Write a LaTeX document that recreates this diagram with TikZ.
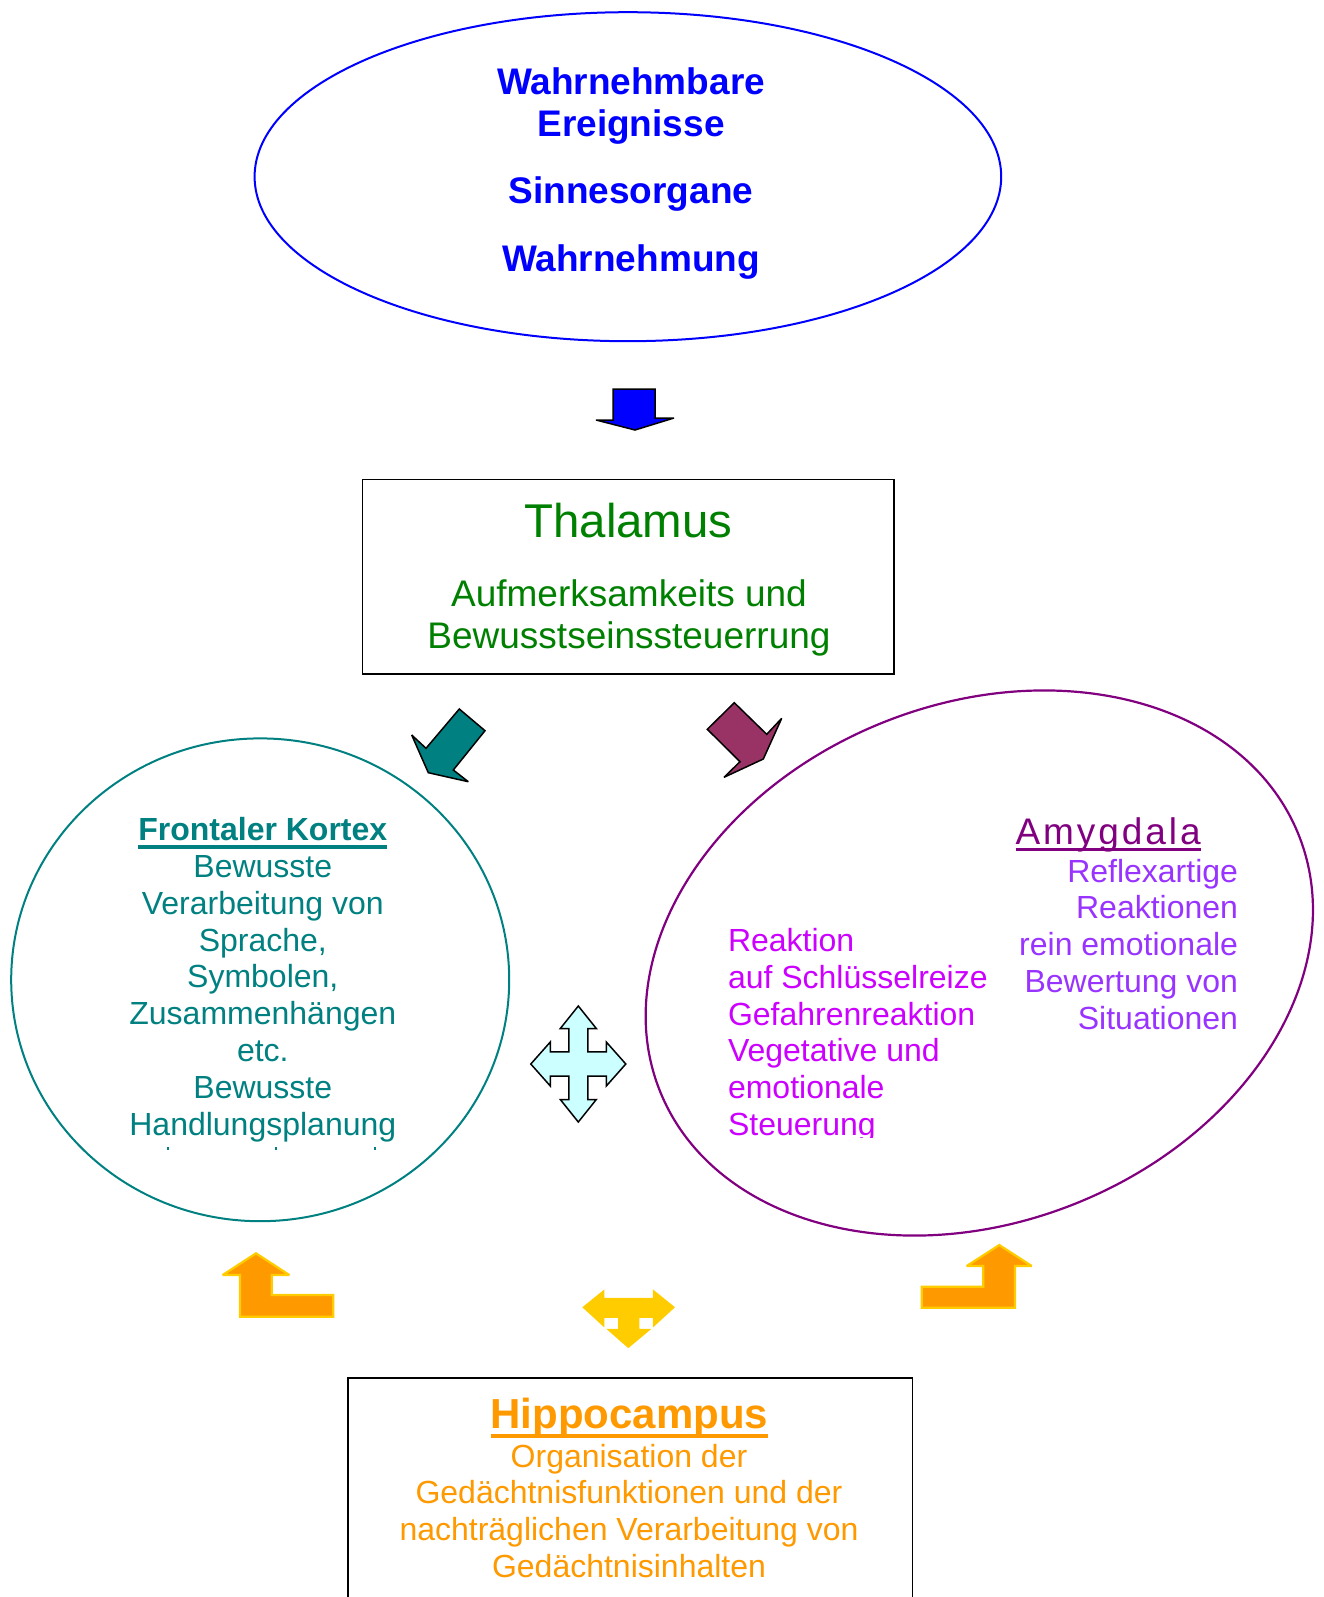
\documentclass[tikz,border=0pt]{standalone}
\usepackage{fontspec}
\setmainfont{Liberation Sans}
\newfontfamily\amygfont[LetterSpace=8]{Liberation Sans}
\usetikzlibrary{shapes.geometric}

\definecolor{blau}{RGB}{0,0,255}
\definecolor{gruen}{RGB}{0,128,0}
\definecolor{petrol}{RGB}{0,128,128}
\definecolor{lila}{RGB}{128,0,128}
\definecolor{violett}{RGB}{153,51,255}
\definecolor{pink}{RGB}{204,0,255}
\definecolor{orangeA}{RGB}{255,153,0}
\definecolor{gelb}{RGB}{255,204,0}
\definecolor{weinrot}{RGB}{153,51,102}
\definecolor{hellcyan}{RGB}{204,255,255}

% underline: #1 = lower edge, #2 = thickness, #3 = text
\newcommand{\unterstr}[3]{\setbox0\hbox{#3}\rlap{\rule[#1]{\wd0}{#2}}\box0}

\begin{document}
\begin{tikzpicture}[x=1pt, y=-1pt,
    pfeil/.style={draw=black, line width=1.5, line join=miter, miter limit=3},
    gpfeil/.style={draw=gelb, fill=orangeA, line width=2.2, line join=miter, miter limit=3},
    txt/.style={inner sep=0, outer sep=0},
    gross/.style={font=\fontsize{37}{42.5}\selectfont},
    normal/.style={font=\fontsize{32}{36.8}\selectfont}]
                \useasboundingbox (0,0) rectangle (1323,1597);
                \clip (0,0) rectangle (1323,1597);

                % Wahrnehmung:
                \node[ellipse, draw=blau, line width=2, minimum width=746.6, minimum height=329, inner sep=0] (wahrn) at (627.9,176.7) {};
                \node[txt, gross, anchor=north, align=center, text=blau] (ereig) at (631,64.3) {\strut\textbf{Wahrnehmbare}\\\textbf{Ereignisse}};
                \node[txt, gross, anchor=base, text=blau] (sinne) at (631,204) {\textbf{Sinnesorgane}};
                \node[txt, gross, anchor=base, text=blau] (wahrntxt) at (631,271.5) {\textbf{Wahrnehmung}};

                % Pfeil nach unten:
                \draw[pfeil, fill=blau] (613,389) -- (655,389) -- (655,418) -- (674,418) -- (635,430) -- (596,420) -- (613,420) -- cycle;

                % Thalamus:
                \node[draw=black, line width=1.5, minimum width=531.6, minimum height=194.5, inner sep=0] (thal) at (628.4,576.95) {};
                \node[txt, anchor=base, text=gruen, font=\fontsize{47.4}{54}\selectfont] (thaltitel) at (628.5,537) {Thalamus};
                \node[txt, gross, anchor=north, align=center, text=gruen] (thaltxt) at (629,576.4) {\strut Aufmerksamkeits und\\Bewusstseinssteuerrung};

                % Pfeile zu Kortex und Amygdala:
                \draw[pfeil, fill=petrol] (459.3,709) -- (485,730.7) -- (453.3,770) -- (468.3,781.7) -- (428.3,772.7) -- (411.7,735) -- (426,748.3) -- cycle;
                \draw[pfeil, fill=weinrot] (734.3,702.7) -- (766.7,734.3) -- (781.7,718.3) -- (763.3,759) -- (724,777.3) -- (740,761.7) -- (707.3,729.3) -- cycle;

                % Frontaler Kortex:
                \node[ellipse, draw=petrol, line width=2, minimum width=498, minimum height=482.8, inner sep=0] (kortex) at (260.2,979.8) {};
                \begin{scope}
                    \clip (0,780) rectangle (520,1143);
                    \node[txt, normal, anchor=north, align=center, text=petrol] (kortextxt) at (262.8,815) {\strut\unterstr{-7.8pt}{3.5pt}{\textbf{Frontaler Kortex}}\\Bewusste\\Verarbeitung von\\Sprache,\\Symbolen,\\Zusammenhängen\\etc.\\Bewusste\\Handlungsplanung};
                \end{scope}
                \foreach \px in {168,276,375}
                    \fill[petrol] (\px-1,1146.5) rectangle (\px+1,1149.5);

                % Amygdala:
                \node[ellipse, draw=lila, line width=2.2, minimum width=688.2, minimum height=518.2, inner sep=0, rotate=21.9] (amyg) at (979.3,963) {};
                \node[txt, anchor=base west, text=lila, font=\fontsize{37}{42.5}\amygfont] (amygtitel) at (1015.5,844) {\unterstr{-6.8pt}{3.3pt}{Amygdala}};
                \node[txt, normal, anchor=north east, align=right, text=violett] (amygre) at (1238,856.4) {\strut Reflexartige\\Reaktionen\\rein emotionale\\Bewertung von\\Situationen};
                \begin{scope}
                    \clip (700,900) rectangle (1000,1137.7);
                    \node[txt, normal, anchor=north west, align=left, text=pink] (amygli) at (728,925.8) {\strut Reaktion\\auf Schlüsselreize\\Gefahrenreaktion\\Vegetative und\\emotionale\\Steuerung};
                \end{scope}

                % Wechselwirkung:
                \draw[pfeil, fill=hellcyan, shift={(578.3,1064)}] (0,-58) -- (18,-35.5) -- (9.5,-35.5) -- (9.5,-12.2) -- (28,-12.2) -- (28,-22) -- (47.5,0) -- (28,22) -- (28,12.2) -- (9.5,12.2) -- (9.5,35.5) -- (18,35.5) -- (0,58) -- (-18,35.5) -- (-9.5,35.5) -- (-9.5,12.2) -- (-28,12.2) -- (-28,22) -- (-47.5,0) -- (-28,-22) -- (-28,-12.2) -- (-9.5,-12.2) -- (-9.5,-35.5) -- (-18,-35.5) -- cycle;

                % Pfeile vom Hippocampus:
                \draw[gpfeil] (256,1253.3) -- (289.3,1275) -- (271.7,1275) -- (271.7,1295) -- (333.3,1295) -- (333.3,1316.7) -- (240,1316.7) -- (240,1275) -- (222.7,1275) -- cycle;
                \draw[gpfeil] (999.3,1245) -- (1031.7,1266) -- (1015,1266) -- (1015,1307.7) -- (921.7,1307.7) -- (921.7,1286.7) -- (983.3,1286.7) -- (983.3,1266) -- (966.7,1266) -- cycle;
                \draw[gpfeil, fill=gelb] (584,1307.3) -- (603.3,1291.7) -- (603.3,1299) -- (654,1299) -- (654,1291.7) -- (673.3,1307.3) -- (654,1325) -- (654,1316.7) -- (638.3,1316.7) -- (638.3,1330) -- (648.3,1330) -- (628.3,1346.7) -- (609.3,1330) -- (619.3,1330) -- (619.3,1316.7) -- (603.3,1316.7) -- (603.3,1325) -- cycle;

                % Hippocampus:
                \node[draw=black, line width=1.5, minimum width=564.2, minimum height=260, inner sep=0, anchor=north west] (hippo) at (347.3,1377) {};
                \node[txt, anchor=base, text=orangeA, font=\fontsize{42}{48}\selectfont] (hippotitel) at (629.4,1428.7) {\unterstr{-9.3pt}{4.2pt}{\textbf{Hippocampus}}};
                \node[txt, normal, anchor=north, align=center, text=orangeA] (hippotxt) at (629,1441.3) {\strut Organisation der\\Gedächtnisfunktionen und der\\nachträglichen Verarbeitung von\\Gedächtnisinhalten};
            \end{tikzpicture}
\end{document}
